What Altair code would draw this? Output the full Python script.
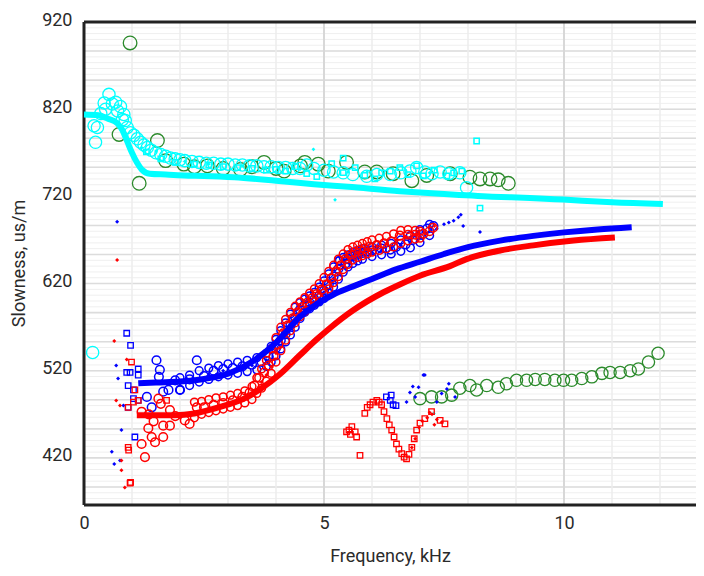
import altair as alt
import pandas as pd

# ---------------- data ----------------
# model curves
cyan_line_x = [0, 0.3, 0.5, 0.69, 0.8, 0.9, 1.0, 1.1, 1.2, 1.37, 1.7, 2.08, 2.5, 3.13, 4.0, 4.79, 5.5, 6.58, 7.5, 8.5, 9.29, 9.98, 11.0, 12.06]
cyan_line_y = [814, 813, 809, 804, 796, 783, 770, 759, 751, 746, 745, 744, 743.5, 742, 738, 734, 731, 726, 722.7, 719.7, 718.2, 716.3, 713.3, 711.3]

blue_line_x = [1.13, 1.5, 2.0, 2.5, 3.0, 3.5, 4.0, 4.5, 4.85, 5.2, 5.54, 6.0, 6.5, 7.0, 7.5, 8.0, 8.67, 9.36, 10.0, 10.7, 11.41]
blue_line_y = [505.6, 506.6, 507.6, 510.6, 516.5, 530.3, 552.1, 581.8, 596.6, 607.5, 615.4, 625.3, 636.2, 645, 653.9, 661.8, 669.2, 674.7, 678.7, 682.1, 684.6]

red_line_x = [1.1, 1.5, 1.9, 2.3, 2.8, 3.39, 3.875, 4.08, 4.5, 4.85, 5.125, 5.6, 6.24, 6.58, 7.0, 7.625, 7.97, 8.67, 9.36, 10.2, 11.06]
red_line_y = [469, 469, 469, 471, 477.9, 489.5, 507, 516, 538, 556, 569, 589, 610, 619, 629, 640, 648, 657.9, 663.8, 669.3, 672.8]

# cyan measured points
cyan_circ_x = [0.18, 0.21, 0.24, 0.28, 0.35, 0.42, 0.45, 0.52, 0.59, 0.66, 0.7, 0.76, 0.8, 0.83, 0.86, 0.9, 0.97, 1.04, 1.11, 1.18, 1.25, 1.32, 1.4, 1.5, 1.6, 1.7, 1.8, 1.9, 2.0, 2.1, 2.25, 2.4, 2.55, 2.7, 2.85, 3.0, 3.15, 3.3, 3.45, 3.6, 3.75, 3.9, 4.05, 4.2, 4.35, 4.5, 4.64, 4.79, 5.0, 5.2, 5.4, 5.6, 5.89, 6.1, 6.38, 6.6, 6.79, 6.93, 7.1, 7.25, 7.42, 7.6, 7.83, 7.97]
cyan_circ_y = [541, 801, 782, 799, 815, 827, 820, 837, 826, 828, 818, 823, 808, 814, 807, 799, 793, 790, 786, 782, 779, 776, 773, 770, 768, 766, 764, 763, 762, 761, 760, 759, 758, 758, 757, 757, 756, 756, 755, 755, 754, 754, 753, 753, 752, 752, 756, 752, 750, 748, 747, 745, 743, 745, 745, 747, 749, 753, 748, 746, 748, 746, 747, 730]

cyan_sq_x = [1.3, 1.6, 1.9, 2.3, 2.6, 2.9, 3.2, 3.5, 3.8, 4.0, 4.2, 4.4, 4.64, 4.85, 5.16, 5.4, 5.4, 5.65, 5.85, 6.06, 6.2, 6.38, 6.58, 6.75, 6.93, 7.07, 7.3, 7.56, 7.7, 7.87, 8.18, 8.25]
cyan_sq_y = [771, 763, 759, 757, 756, 754, 753, 752, 750, 751, 749, 754, 746, 742.6, 757.6, 763.8, 747.2, 753, 744, 740, 747, 749, 753, 745, 755, 743.5, 750, 743.5, 747, 749, 783.5, 706.4]

cyan_dia_x = [4.78, 5.23, 7.29, 1.5, 2.6, 3.8, 5.9, 6.7, 1.2, 2.1, 3.3, 4.5, 5.5, 7.2]
cyan_dia_y = [774, 716, 471, 772, 757, 753, 748, 750, 776, 760, 755, 751, 748, 747]

# green measured points
green_top_x = [0.96, 0.73, 1.15, 1.53, 1.70, 2.08, 2.3, 2.57, 2.9, 3.26, 3.5, 3.75, 4.0, 4.17, 4.51, 4.6, 4.88, 5.09, 5.47, 5.85, 6.1, 6.44, 6.83, 7.14, 7.63, 8.04, 8.25, 8.46, 8.63, 8.84]
green_top_y = [896, 791, 735, 784, 761, 757, 754, 755, 752, 751, 754, 759, 752, 749, 755, 759, 757, 749, 759, 748, 748, 746, 738, 744, 746, 742, 740, 740, 739, 735]

green_low_x = [7.0, 7.24, 7.45, 7.66, 7.83, 8.04, 8.18, 8.39, 8.63, 8.8, 9.01, 9.22, 9.4, 9.6, 9.81, 9.99, 10.16, 10.37, 10.58, 10.79, 10.96, 11.17, 11.38, 11.55, 11.76, 11.96]
green_low_y = [488, 490, 490, 492, 500, 503, 498, 503, 501, 505, 509, 509, 510, 510, 509, 509, 509, 511, 513, 517, 518, 518, 520, 522, 530, 540]

# blue measured points (band centre, upper edge, lower edge, scatter)
blue_circ_x = [1.51, 1.58, 1.56, 1.31, 1.41, 1.65, 1.76, 1.9, 2.0, 2.35, 2.2, 2.5, 2.7, 2.9, 3.1, 3.3, 3.5, 3.7, 3.85, 4.0, 4.1, 4.2, 4.3, 4.4, 4.5, 4.6, 4.7, 4.8, 4.9, 5.0, 5.1, 5.2, 5.3, 5.33, 5.45, 5.5, 5.6, 5.7, 5.8, 5.9, 6.0, 6.2, 6.38, 6.5, 6.7, 6.85, 7.0, 7.15, 7.28]
blue_circ_y = [532, 521, 513, 490, 478, 496, 498, 509, 498, 532, 510, 514, 520, 522, 523, 525, 527, 530, 536, 546, 555, 562, 572, 581, 590, 595, 598, 602, 606, 612, 619, 628, 637, 646, 643, 648, 651, 653, 655, 657, 658, 660, 659, 662, 665, 670, 676, 683, 686]

blue_up_x = [2.0, 2.2, 2.4, 2.6, 2.8, 3.0, 3.2, 3.4, 3.6, 3.8, 3.9, 4.0, 4.1, 4.2, 4.3, 4.4, 4.5, 4.6, 4.7, 4.8, 4.9, 5.0, 5.1, 5.2, 5.3, 5.4, 5.5, 5.6, 5.7, 5.8, 6.0, 6.2, 6.4, 6.6, 6.8, 7.0, 7.2]
blue_up_y = [512, 515, 520, 523, 526, 528, 530, 532, 535, 540, 548, 556, 566, 575, 585, 593, 598, 602, 606, 610, 616, 623, 631, 639, 646, 650, 653, 656, 658, 660, 662, 664, 666, 670, 675, 682, 688]
blue_lo_x = [2.0, 2.2, 2.4, 2.6, 2.8, 3.0, 3.2, 3.4, 3.6, 3.8, 3.9, 4.0, 4.1, 4.2, 4.3, 4.4, 4.5, 4.6, 4.7, 4.8, 4.9, 5.0, 5.1, 5.2, 5.3, 5.4, 5.5, 5.6, 5.7, 5.8, 6.0, 6.2, 6.4, 6.6, 6.8, 7.0, 7.2]
blue_lo_y = [498, 503, 507, 510, 513, 515, 517, 519, 521, 525, 530, 537, 545, 553, 561, 570, 580, 587, 591, 595, 599, 603, 609, 616, 625, 633, 639, 643, 646, 648, 651, 653, 654, 657, 661, 667, 675]

blue_sq_x = [0.89, 0.97, 0.89, 0.96, 1.13, 1.13, 0.92, 1.03, 1.03, 1.13, 0.92, 1.06, 6.3, 6.38, 6.44, 6.5, 6.4]
blue_sq_y = [563, 549, 518, 518, 522, 515, 503, 498, 488, 486, 478, 444, 490, 486, 481, 480, 492]

blue_dia_x = [0.69, 0.67, 0.71, 0.82, 0.78, 0.58, 0.63, 0.75, 2.0, 2.3, 2.6, 2.9, 3.2, 3.5, 3.8, 4.0, 4.2, 4.4, 4.6, 4.8, 5.0, 5.2, 5.4, 5.6, 5.8, 6.0, 6.2, 6.4, 6.6, 6.8, 7.0, 7.2, 7.35, 7.5, 7.6, 7.7, 7.8, 7.85, 7.9, 8.25, 7.07, 6.72, 6.79, 6.97, 7.1, 7.35, 7.56, 7.73, 6.9, 7.45, 7.6, 6.85]
blue_dia_y = [691, 526, 511, 480, 452, 427, 413, 417, 505, 510, 516, 520, 522, 526, 532, 543, 560, 580, 592, 598, 610, 626, 640, 648, 653, 656, 658, 660, 664, 668, 674, 680, 683, 688, 690, 692, 696, 699, 686, 679, 515, 484, 495, 501, 515, 484, 499, 490, 490, 494, 505, 502]

# red measured points (band centre, upper edge, lower edge, scatter)
red_circ_x = [1.55, 1.6, 1.79, 1.2, 1.34, 1.41, 1.2, 1.48, 1.65, 1.27, 1.65, 1.79, 1.45, 1.35, 1.9, 2.1, 2.2, 2.35, 2.5, 2.7, 2.9, 3.1, 3.3, 3.45, 3.55, 3.65, 3.75, 3.85, 3.95, 4.05, 4.15, 4.25, 4.35, 4.45, 4.55, 4.65, 4.75, 4.85, 4.95, 5.06, 5.15, 5.25, 5.35, 5.45, 5.55, 5.65, 5.75, 5.85, 5.95, 6.1, 6.25, 6.4, 6.58, 6.75, 6.9, 7.07, 7.2, 7.27]
red_circ_y = [488, 482, 475, 473, 454, 444, 436, 438, 444, 421, 457, 457, 462, 470, 468, 463, 459, 478, 478, 481, 483, 486, 490, 495, 503, 512, 518, 526, 537, 550, 563, 572, 580, 587, 593, 598, 603, 608, 613, 619, 626, 634, 641, 648, 653, 656, 658, 660, 662, 664, 666, 668, 675, 676, 676, 677, 680, 684]

red_up_x = [2.3, 2.45, 2.6, 2.75, 2.9, 3.05, 3.2, 3.35, 3.5, 3.6, 3.7, 3.8, 3.9, 4.0, 4.1, 4.2, 4.3, 4.4, 4.5, 4.6, 4.7, 4.8, 4.9, 5.0, 5.1, 5.2, 5.3, 5.4, 5.5, 5.6, 5.7, 5.8, 5.9, 6.0, 6.15, 6.3, 6.45, 6.6, 6.75, 6.9, 7.0]
red_up_y = [484, 485, 487, 489, 490, 492, 494, 497, 502, 512, 522, 532, 545, 558, 570, 579, 587, 594, 599, 604, 609, 614, 620, 627, 634, 641, 648, 654, 659, 662, 664, 666, 668, 670, 672, 674, 677, 681, 682, 681, 680]
red_lo_x = [2.3, 2.45, 2.6, 2.75, 2.9, 3.05, 3.2, 3.35, 3.5, 3.6, 3.7, 3.8, 3.9, 4.0, 4.1, 4.2, 4.3, 4.4, 4.5, 4.6, 4.7, 4.8, 4.9, 5.0, 5.1, 5.2, 5.3, 5.4, 5.5, 5.6, 5.7, 5.8, 5.9, 6.0, 6.15, 6.3, 6.45, 6.6, 6.75, 6.9, 7.0]
red_lo_y = [466, 470, 472, 474, 476, 478, 480, 483, 487, 494, 500, 508, 517, 530, 543, 555, 566, 575, 582, 588, 594, 599, 604, 609, 614, 621, 628, 636, 642, 647, 650, 652, 654, 656, 658, 660, 662, 666, 669, 671, 672]

red_sq_x = [0.99, 1.06, 1.03, 0.92, 1.13, 0.92, 0.93, 0.97, 1.72, 0.96, 5.47, 5.52, 5.58, 5.55, 5.65, 5.68, 5.75, 5.85, 5.9, 5.96, 6.02, 6.1, 6.15, 6.2, 6.25, 6.31, 6.36, 6.41, 6.46, 6.51, 6.56, 6.62, 6.67, 6.72, 6.77, 6.83, 6.88, 6.93, 7.0, 7.1, 7.24, 7.42, 7.52]
red_sq_y = [530, 498, 484, 478, 486, 432, 429, 392, 486, 391, 450, 452, 456, 447, 450, 444, 423, 471, 478, 481, 484, 486, 484, 481, 473, 465, 458, 452, 444, 436, 430, 425, 421, 419, 424, 432, 442, 452, 460, 465, 473, 463, 459]

red_dia_x = [0.69, 0.63, 0.89, 0.67, 0.75, 0.78, 0.78, 0.85, 2.0, 2.3, 2.6, 2.9, 3.2, 3.5, 3.7, 3.8, 3.9, 4.0, 4.1, 4.3, 4.5, 4.7, 4.9, 5.1, 5.3, 5.5, 5.7, 5.9, 6.1, 6.3, 6.5, 6.7, 6.9, 7.1, 7.3, 6.83, 6.9, 6.98, 7.05, 7.15, 7.25, 7.35, 7.45, 7.3, 7.2]
red_dia_y = [647, 554, 533, 486, 480, 417, 406, 386, 466, 470, 476, 480, 484, 494, 507, 515, 525, 540, 555, 575, 588, 600, 610, 622, 637, 650, 656, 660, 663, 666, 670, 674, 676, 677, 686, 432, 442, 455, 462, 466, 470, 464, 461, 458, 472]

# axis labels
x_ticks = [0, 5, 10]
y_ticks = [420, 520, 620, 720, 820, 920]

# ---------------- chart ----------------
FONT = "Roboto, DejaVu Sans Condensed, sans-serif"
XMIN, XMAX, YMIN, YMAX = 0, 12.75, 366, 920

xs = alt.Scale(domain=[XMIN, XMAX], nice=False, zero=False)
ys = alt.Scale(domain=[YMIN, YMAX], nice=False, zero=False)
xaxis = alt.Axis(values=x_ticks, title="Frequency, kHz", grid=False, ticks=False, tickSize=0,
                 domain=False, labelFlush=False, labelPadding=23, labelBaseline="alphabetic",
                 titleY=56, titleBaseline="alphabetic")
yaxis = alt.Axis(values=y_ticks, title="Slowness, us/m", grid=False, ticks=False, tickSize=0,
                 domain=False, labelPadding=12, labelBaseline="alphabetic", labelOffset=3,
                 titleX=-60, titleY=241, titleAngle=-90, titleBaseline="alphabetic", titleAlign="center")


def df(x, y):
    return pd.DataFrame({"x": x, "y": y})


def enc(ch):
    return ch.encode(x=alt.X("x:Q", scale=xs, axis=xaxis), y=alt.Y("y:Q", scale=ys, axis=yaxis))


# grid lines and frame (styling only)
major_h = [YMAX - k * 100 / 3 for k in range(17) if YMAX - k * 100 / 3 >= YMIN]
minor_h = [YMAX - k * 20 / 3 for k in range(84) if YMAX - k * 20 / 3 >= YMIN]
minor_v = [v for v in range(1, 13) if v not in (5, 10)]
major_v = [5, 10]

g1 = alt.Chart(pd.DataFrame({"y": minor_h})).mark_rule(color="#efefef", strokeWidth=1).encode(
    y=alt.Y("y:Q", scale=ys, axis=yaxis))
g2 = alt.Chart(pd.DataFrame({"y": major_h})).mark_rule(color="#dcdcdc", strokeWidth=1.6).encode(
    y=alt.Y("y:Q", scale=ys, axis=yaxis))
g3 = alt.Chart(pd.DataFrame({"x": minor_v})).mark_rule(color="#ececec", strokeWidth=1.5).encode(
    x=alt.X("x:Q", scale=xs, axis=xaxis))
g4 = alt.Chart(pd.DataFrame({"x": major_v})).mark_rule(color="#d8d8d8", strokeWidth=2).encode(
    x=alt.X("x:Q", scale=xs, axis=xaxis))
frame_h = alt.Chart(pd.DataFrame({"y": [YMIN, YMAX]})).mark_rule(color="#222222", strokeWidth=3).encode(
    y=alt.Y("y:Q", scale=ys, axis=yaxis))
frame_v = alt.Chart(pd.DataFrame({"x": [XMIN]})).mark_rule(color="#222222", strokeWidth=3).encode(
    x=alt.X("x:Q", scale=xs, axis=xaxis))

GREEN = "#2b8a2b"


def pts(x, y, color, shape, size, sw=1.3, filled=False):
    return enc(alt.Chart(df(x, y)).mark_point(shape=shape, size=size, color=color,
                                               filled=filled, strokeWidth=sw, opacity=1))


layers = [
    g1, g2, g3, g4, frame_h, frame_v,
    pts(green_top_x, green_top_y, GREEN, "circle", 185),
    pts(green_low_x, green_low_y, GREEN, "circle", 150),
    pts(cyan_circ_x, cyan_circ_y, "#00ffff", "circle", 150),
    pts(cyan_sq_x, cyan_sq_y, "#00ffff", "square", 28, 1.5),
    pts(cyan_dia_x, cyan_dia_y, "#00ffff", "diamond", 14, 1.2, True),
    pts(blue_sq_x, blue_sq_y, "#0000ff", "square", 30, 1.3),
    pts(blue_up_x, blue_up_y, "#0000ff", "circle", 60, 1.5),
    pts(blue_lo_x, blue_lo_y, "#0000ff", "circle", 60, 1.5),
    pts(blue_circ_x, blue_circ_y, "#0000ff", "circle", 75, 1.5),
    pts(blue_dia_x, blue_dia_y, "#0000ff", "diamond", 16, 1.2, True),
    pts(red_sq_x, red_sq_y, "#ff0000", "square", 30, 1.3),
    pts(red_up_x, red_up_y, "#ff0000", "circle", 60, 1.5),
    pts(red_lo_x, red_lo_y, "#ff0000", "circle", 60, 1.5),
    pts(red_circ_x, red_circ_y, "#ff0000", "circle", 75, 1.5),
    pts(red_dia_x, red_dia_y, "#ff0000", "diamond", 16, 1.2, True),
    enc(alt.Chart(df(blue_line_x, blue_line_y)).mark_line(color="#0000ff", strokeWidth=6, interpolate="monotone")),
    enc(alt.Chart(df(red_line_x, red_line_y)).mark_line(color="#ff0000", strokeWidth=6, interpolate="monotone")),
    enc(alt.Chart(df(cyan_line_x, cyan_line_y)).mark_line(color="#00ffff", strokeWidth=6, interpolate="monotone")),
]

chart = alt.layer(*layers).properties(
    width=612, height=483, autosize="none",
    padding={"left": 76, "top": 14, "right": 0, "bottom": 71},
    background="white",
).configure_view(stroke=None).configure_axis(
    labelFont=FONT, titleFont=FONT, labelFontSize=18, titleFontSize=18,
    labelColor="#2a2a2a", titleColor="#2a2a2a", titleFontWeight="normal",
)

chart.save("out.html", embed_options={"renderer": "svg", "actions": False})
